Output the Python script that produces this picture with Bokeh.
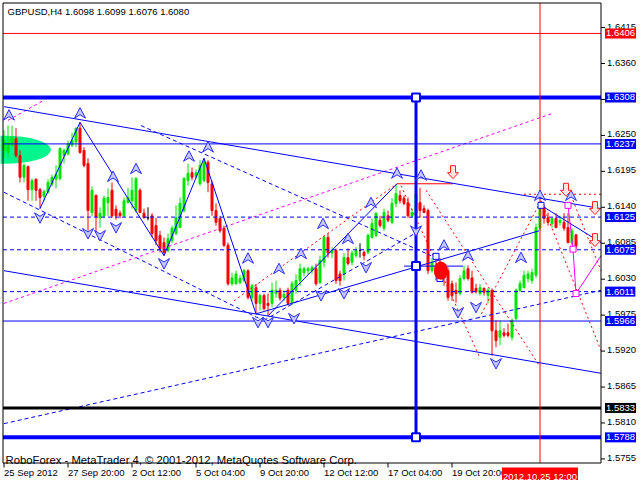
from bokeh.plotting import figure
from bokeh.models import Range1d, Label, ColumnDataSource
from bokeh.embed import file_html
from bokeh.resources import INLINE

title_text = "GBPUSD,H4  1.6098 1.6099 1.6076 1.6080"
copyright_text = "RoboForex - MetaTrader 4, \u00a9 2001-2012, MetaQuotes Software Corp."

opens = [
    1.6227, 1.6224, 1.6235, 1.6245, 1.6219, 1.6186, 1.6202, 1.6167, 1.6183, 1.6167,
    1.6157, 1.6163, 1.6176, 1.6183, 1.6184, 1.6219, 1.6222, 1.6235, 1.6240, 1.6261,
    1.6227, 1.6207, 1.6132, 1.6158, 1.6124, 1.6127, 1.6147, 1.6166, 1.6137, 1.6131,
    1.6127, 1.6147, 1.6150, 1.6135, 1.6166, 1.6131, 1.6124, 1.6127, 1.6112, 1.6097,
    1.6086, 1.6074, 1.6089, 1.6100, 1.6109, 1.6135, 1.6181, 1.6193, 1.6187, 1.6176,
    1.6181, 1.6209, 1.6176, 1.6135, 1.6123, 1.6108, 1.6082, 1.6023, 1.6023, 1.6025,
    1.6028, 1.6043, 1.6002, 1.6017, 1.5993, 1.6005, 1.5993, 1.5993, 1.6008, 1.6013,
    1.6002, 1.6013, 1.5994, 1.6013, 1.6028, 1.6040, 1.6043, 1.6043, 1.6046, 1.6025,
    1.6056, 1.6094, 1.6070, 1.6074, 1.6038, 1.6038, 1.6063, 1.6056, 1.6066, 1.6074,
    1.6071, 1.6071, 1.6094, 1.6097, 1.6120, 1.6108, 1.6127, 1.6117, 1.6146, 1.6158,
    1.6154, 1.6147, 1.6127, 1.6131, 1.6147, 1.6138, 1.6135, 1.6043, 1.6051, 1.6056,
    1.6043, 1.6043, 1.6023, 1.6013, 1.6008, 1.6031, 1.6046, 1.6032, 1.6016, 1.6008,
    1.6016, 1.6005, 1.6013, 1.5951, 1.5941, 1.5948, 1.5948, 1.5941, 1.5970, 1.6013,
    1.6017, 1.6031, 1.6028, 1.6036, 1.6108, 1.6140, 1.6124, 1.6115, 1.6123, 1.6117,
    1.6117, 1.6109, 1.6085, 1.6098]
highs = [
    1.6258, 1.6265, 1.6265, 1.6261, 1.6227, 1.6207, 1.6204, 1.6184, 1.6184, 1.6170,
    1.6167, 1.6183, 1.6190, 1.6204, 1.6232, 1.6230, 1.6242, 1.6254, 1.6262, 1.6270,
    1.6232, 1.6215, 1.6172, 1.6160, 1.6140, 1.6158, 1.6169, 1.6178, 1.6143, 1.6135,
    1.6155, 1.6170, 1.6186, 1.6186, 1.6169, 1.6138, 1.6140, 1.6131, 1.6124, 1.6104,
    1.6094, 1.6100, 1.6112, 1.6143, 1.6155, 1.6186, 1.6207, 1.6201, 1.6198, 1.6212,
    1.6215, 1.6212, 1.6181, 1.6146, 1.6127, 1.6112, 1.6086, 1.6040, 1.6043, 1.6036,
    1.6046, 1.6045, 1.6023, 1.6023, 1.6008, 1.6008, 1.6008, 1.6025, 1.6028, 1.6017,
    1.6013, 1.6017, 1.6027, 1.6038, 1.6054, 1.6049, 1.6049, 1.6051, 1.6054, 1.6066,
    1.6097, 1.6100, 1.6079, 1.6077, 1.6043, 1.6070, 1.6077, 1.6074, 1.6079, 1.6085,
    1.6074, 1.6100, 1.6123, 1.6132, 1.6127, 1.6138, 1.6135, 1.6154, 1.6176, 1.6166,
    1.6158, 1.6155, 1.6138, 1.6166, 1.6170, 1.6143, 1.6138, 1.6062, 1.6059, 1.6062,
    1.6051, 1.6048, 1.6028, 1.6025, 1.6036, 1.6051, 1.6051, 1.6043, 1.6023, 1.6023,
    1.6017, 1.6017, 1.6016, 1.5967, 1.5967, 1.5955, 1.5962, 1.5970, 1.6016, 1.6028,
    1.6043, 1.6043, 1.6046, 1.6115, 1.6150, 1.6143, 1.6132, 1.6124, 1.6131, 1.6127,
    1.6131, 1.6131, 1.6108, 1.6099]
lows = [
    1.6216, 1.6216, 1.6232, 1.6216, 1.6178, 1.6178, 1.6150, 1.6150, 1.6150, 1.6138,
    1.6150, 1.6161, 1.6172, 1.6169, 1.6181, 1.6207, 1.6219, 1.6232, 1.6232, 1.6222,
    1.6201, 1.6104, 1.6126, 1.6101, 1.6109, 1.6123, 1.6127, 1.6124, 1.6121, 1.6123,
    1.6124, 1.6146, 1.6138, 1.6132, 1.6131, 1.6123, 1.6120, 1.6094, 1.6082, 1.6071,
    1.6066, 1.6071, 1.6085, 1.6097, 1.6108, 1.6132, 1.6173, 1.6181, 1.6184, 1.6173,
    1.6178, 1.6163, 1.6127, 1.6112, 1.6101, 1.6079, 1.6020, 1.6020, 1.6022, 1.6022,
    1.6025, 1.5999, 1.5997, 1.5977, 1.5982, 1.5982, 1.5974, 1.5987, 1.6001, 1.5997,
    1.5997, 1.5990, 1.5990, 1.6008, 1.6020, 1.6034, 1.6037, 1.6038, 1.6020, 1.6022,
    1.6048, 1.6063, 1.6062, 1.6023, 1.6020, 1.6028, 1.6051, 1.6051, 1.6063, 1.6063,
    1.6059, 1.6068, 1.6092, 1.6094, 1.6109, 1.6104, 1.6117, 1.6114, 1.6140, 1.6146,
    1.6143, 1.6124, 1.6124, 1.6127, 1.6124, 1.6131, 1.6038, 1.6040, 1.6028, 1.6031,
    1.6020, 1.5997, 1.5997, 1.5994, 1.6005, 1.6028, 1.6028, 1.6008, 1.6008, 1.6005,
    1.6005, 1.5993, 1.5913, 1.5926, 1.5929, 1.5941, 1.5941, 1.5936, 1.5967, 1.6010,
    1.6016, 1.6025, 1.6023, 1.6032, 1.6104, 1.6115, 1.6112, 1.6109, 1.6108, 1.6112,
    1.6104, 1.6085, 1.6082, 1.6076]
closes = [
    1.6242, 1.6239, 1.6247, 1.6219, 1.6186, 1.6204, 1.6167, 1.6181, 1.6166, 1.6155,
    1.6164, 1.6178, 1.6186, 1.6190, 1.6230, 1.6227, 1.6237, 1.6242, 1.6261, 1.6224,
    1.6204, 1.6135, 1.6166, 1.6126, 1.6131, 1.6154, 1.6155, 1.6127, 1.6127, 1.6127,
    1.6150, 1.6155, 1.6166, 1.6184, 1.6132, 1.6124, 1.6124, 1.6100, 1.6089, 1.6077,
    1.6071, 1.6092, 1.6108, 1.6124, 1.6146, 1.6184, 1.6192, 1.6186, 1.6193, 1.6204,
    1.6210, 1.6178, 1.6135, 1.6117, 1.6104, 1.6082, 1.6023, 1.6032, 1.6038, 1.6031,
    1.6043, 1.6002, 1.6020, 1.5993, 1.6005, 1.5985, 1.5990, 1.6013, 1.6013, 1.6001,
    1.6007, 1.5993, 1.6023, 1.6028, 1.6046, 1.6046, 1.6046, 1.6048, 1.6023, 1.6059,
    1.6094, 1.6070, 1.6074, 1.6028, 1.6028, 1.6063, 1.6054, 1.6070, 1.6074, 1.6074,
    1.6066, 1.6097, 1.6115, 1.6131, 1.6112, 1.6132, 1.6120, 1.6146, 1.6161, 1.6150,
    1.6146, 1.6127, 1.6132, 1.6161, 1.6135, 1.6132, 1.6043, 1.6056, 1.6036, 1.6038,
    1.6032, 1.6002, 1.6005, 1.6008, 1.6031, 1.6043, 1.6031, 1.6010, 1.6011, 1.6017,
    1.6010, 1.6013, 1.5951, 1.5936, 1.5951, 1.5944, 1.5944, 1.5967, 1.6013, 1.6023,
    1.6036, 1.6038, 1.6040, 1.6109, 1.6146, 1.6123, 1.6117, 1.6123, 1.6109, 1.6120,
    1.6108, 1.6086, 1.6104, 1.6080]

time_ticks = [0, 16, 32, 48, 64, 80, 96, 112]
time_labels = ["25 Sep 2012", "27 Sep 20:00", "2 Oct 12:00", "5 Oct 04:00",
               "9 Oct 20:00", "12 Oct 12:00", "17 Oct 04:00", "19 Oct 20:00"]
cursor_bar = 134
cursor_label = "2012.10.25 12:00"
price_ticks = [1.6415, 1.6360, 1.6305, 1.6250, 1.6195, 1.6140, 1.6085, 1.6030,
               1.5975, 1.5920, 1.5865, 1.5810, 1.5755]
levels = [1.6406, 1.6308, 1.6237, 1.6125, 1.6075, 1.6011, 1.5966, 1.5833, 1.5788]
level_colors = ["#ff0000", "#0000ff", "#0000ff", "#0000ff", "#0000ff",
                "#0000ff", "#0000ff", "#000000", "#0000ff"]
level_widths = [1, 4, 1, 1, 1, 1, 1, 3, 4]
level_dashes = ["solid", "solid", "solid", "4 3", "4 3", "4 3", "solid", "solid", "solid"]

# drawn objects (bar index, price)
solid_x0 = [0, 0, 63, 66, 134.25, 100]
solid_y0 = [1.6294, 1.6043, 1.5977, 1.5974, 1.6143, 1.6050]
solid_x1 = [149.25, 149.25, 133.75, 98.25, 149.25, 114.75]
solid_y1 = [1.6138, 1.5886, 1.6104, 1.6176, 1.6086, 1.6050]
zig_x = [9, 19, 40, 50, 63]
zig_y = [1.6138, 1.6270, 1.6066, 1.6215, 1.5977]
dash_x0 = [0, 34.25, 0, 65]
dash_y0 = [1.6163, 1.6265, 1.5809, 1.5967]
dash_x1 = [63.75, 106.75, 149.25, 103]
dash_y1 = [1.5970, 1.6066, 1.6013, 1.6101]
mag_x0 = [1, 0]
mag_y0 = [1.6273, 1.5993]
mag_x1 = [9.75, 137.25]
mag_y1 = [1.6303, 1.6284]
red_x0 = [57.5, 99.25, 105.5, 118.75, 134.25, 141.75, 130]
red_y0 = [1.5997, 1.6173, 1.6166, 1.5970, 1.6150, 1.6158, 1.6160]
red_x1 = [98.25, 118.75, 134, 134.25, 149.25, 149.25, 149.25]
red_y1 = [1.6176, 1.5913, 1.5896, 1.6150, 1.5921, 1.6043, 1.6160]
peak_line_x = [98.25, 112.25]
peak_line_y = [1.6176, 1.6176]
pink_x = [141, 142.25, 143, 149.25]
pink_y = [1.6143, 1.6076, 1.6008, 1.6066]
vline_bar = 103
cross_price = 1.6050

up_x = [1.25, 19, 46.25, 51, 33, 27.25, 61, 68.75, 74.25, 79.75, 86, 91.75,
        98.25, 104.25, 110, 116, 129.25, 134, 141.75]
up_y = [1.6281, 1.6284, 1.6218, 1.6232, 1.6199, 1.6187, 1.6062, 1.6046, 1.6069,
        1.6115, 1.6092, 1.6147, 1.6192, 1.6189, 1.6082, 1.6066, 1.6063, 1.6158, 1.6158]
dn_x = [9, 21, 24, 28, 40, 63.5, 66, 72.5, 79.25, 85, 90.5, 103, 113.5, 118, 123]
dn_y = [1.6124, 1.6100, 1.6097, 1.6109, 1.6054, 1.5964, 1.5964, 1.5970, 1.6005,
        1.6008, 1.6048, 1.6104, 1.5979, 1.5987, 1.5901]
red_arrow_x = [112.25, 140.5, 147.75, 147.75]
red_arrow_y = [1.6193, 1.6166, 1.6138, 1.6089]
sq_x = [108, 109, 134.25]
sq_y = [1.6065, 1.6031, 1.6143]

# ---- canvas geometry: whole canvas is the frame; chart box drawn inside ----
W, H = 640, 480
PX_PER_BAR = 4.0
BAR0_PX = 3.5
PRICE_PER_PX = 0.000153
PRICE_AT_TOP = 1.64564


def bx(px):
    return (px - BAR0_PX) / PX_PER_BAR


def py(px):
    return PRICE_AT_TOP - px * PRICE_PER_PX


def shapes(xc, yc, dxs, dys):
    xs = [[x + d / PX_PER_BAR for d in dxs] for x in xc]
    ys = [[y - d * PRICE_PER_PX for d in dys] for y in yc]
    return xs, ys


XL, XR = bx(2.5), bx(600.5)
YT, YB = py(2.5), py(462.5)

p = figure(width=W, height=H, x_range=Range1d(bx(0), bx(W)), y_range=Range1d(py(H), py(0)),
           output_backend="svg", toolbar_location=None,
           x_axis_location=None, y_axis_location=None,
           min_border=0, outline_line_color=None,
           background_fill_color="white", border_fill_color="white")
p.grid.grid_line_color = None

# green cloud
p.ellipse(x=[0], y=[1.6228], width=23.5, height=0.00428,
          fill_color="#00f58c", line_color=None)

bars = list(range(len(opens)))
cols = ["#00e600" if c > o else ("#ff0000" if c < o else "#000000")
        for o, c in zip(opens, closes)]
src = ColumnDataSource(dict(x=bars, o=opens, h=highs, l=lows, c=closes,
                            top=[max(a, b) for a, b in zip(opens, closes)],
                            bot=[min(a, b) for a, b in zip(opens, closes)],
                            col=cols))
p.segment(x0="x", y0="l", x1="x", y1="h", line_color="col", line_width=1, source=src)
p.vbar(x="x", width=0.5, top="top", bottom="bot", fill_color="col",
       line_color="col", line_width=1, source=src)

# dashed / dotted objects
p.segment(x0=dash_x0, y0=dash_y0, x1=dash_x1, y1=dash_y1, line_color="#0000ff",
          line_width=1, line_dash="4 3")
p.segment(x0=mag_x0, y0=mag_y0, x1=mag_x1, y1=mag_y1, line_color="#ff00ff",
          line_width=1, line_dash="3 3")
p.segment(x0=red_x0, y0=red_y0, x1=red_x1, y1=red_y1, line_color="#ff0000",
          line_width=1, line_dash="2 3")

# horizontal levels
for lv, lc, lw, ld in zip(levels, level_colors, level_widths, level_dashes):
    p.segment(x0=[XL], y0=[lv], x1=[XR], y1=[lv], line_color=lc, line_width=lw, line_dash=ld)
p.segment(x0=[cursor_bar], y0=[YB], x1=[cursor_bar], y1=[YT], line_color="#ff0000", line_width=1)

p.line(peak_line_x, peak_line_y, line_color="#ff0000", line_width=1)
p.segment(x0=solid_x0, y0=solid_y0, x1=solid_x1, y1=solid_y1, line_color="#0000ff", line_width=1)
p.line(zig_x, zig_y, line_color="#0000ff", line_width=1)
p.line(pink_x, pink_y, line_color="#ff00ff", line_width=1)
p.scatter(pink_x[:3], pink_y[:3], marker="square", size=6, fill_color="white",
          line_color="#ff00ff", line_width=1)
p.segment(x0=[vline_bar], y0=[levels[8]], x1=[vline_bar], y1=[levels[1]],
          line_color="#0000ff", line_width=3)
p.scatter([vline_bar, vline_bar, vline_bar], [levels[1], levels[8], cross_price],
          marker="square", size=8, fill_color="white", line_color="#0000ff", line_width=2)
p.scatter(sq_x, sq_y, marker="square", size=6, fill_color="white",
          line_color="#0000ff", line_width=1)
p.ellipse(x=[109.25], y=[1.6043], width=3.5, height=0.0028, fill_color="#ff0000",
          line_color=None)

# MetaTrader-style arrowheads
ux, uy = shapes(up_x, up_y, [0, 5.5, 0, -5.5], [-5.5, 5, 1.5, 5])
p.patches(ux, uy, fill_color="#c4c8ff", line_color="#2a2aff", line_width=1)
dx, dy = shapes(dn_x, dn_y, [0, 5.5, 0, -5.5], [5.5, -5, -1.5, -5])
p.patches(dx, dy, fill_color="#c4c8ff", line_color="#2a2aff", line_width=1)
rx, ry = shapes(red_arrow_x, red_arrow_y, [-2.5, 2.5, 2.5, 5.5, 0, -5.5, -2.5],
                [-7, -7, 0, 0, 6, 0, 0])
p.patches(rx, ry, fill_color="#ffe4e4", line_color="#ff2020", line_width=1)

# chart box and tick marks
p.quad(left=[XL], right=[XR], top=[YT], bottom=[YB], fill_color=None,
       line_color="black", line_width=1)
p.segment(x0=[XR] * len(price_ticks), y0=price_ticks, x1=[XR + 1] * len(price_ticks),
          y1=price_ticks, line_color="black", line_width=1)
p.segment(x0=time_ticks, y0=[YB] * len(time_ticks), x1=time_ticks,
          y1=[py(467)] * len(time_ticks), line_color="black", line_width=1)

FONT = "Liberation Sans"
p.add_layout(Label(x=bx(7), y=py(5), text=title_text, text_baseline="top",
                   text_font=FONT, text_font_size="9.5px", text_color="black"))
p.add_layout(Label(x=bx(5), y=py(459), text=copyright_text, text_baseline="alphabetic",
                   text_font=FONT, text_font_size="11.3px", text_color="black"))

for t in price_ticks:
    if any(abs(t - lv) < 0.0004 for lv in (1.6308, 1.6075)):
        continue
    p.add_layout(Label(x=XR, y=t, text=f"{t:.4f}", x_offset=6, y_offset=1,
                       text_baseline="middle", text_font=FONT, text_font_size="9.5px",
                       text_color="black"))
for lv, lc in zip(levels, level_colors):
    p.add_layout(Label(x=XR, y=lv, text=f"{lv:.4f}", x_offset=4, text_baseline="middle",
                       text_font=FONT, text_font_size="9.5px", text_color="white",
                       background_fill_color=lc, padding=(1, 2)))

for tb, tl in zip(time_ticks, time_labels):
    p.add_layout(Label(x=tb, y=py(466), text=tl, x_offset=0, text_baseline="top",
                       text_font=FONT, text_font_size="9.5px", text_color="black"))
p.add_layout(Label(x=cursor_bar, y=py(467), text=cursor_label, text_align="center",
                   text_baseline="top", text_font=FONT, text_font_size="9.5px",
                   text_color="white", background_fill_color="#ff0000", padding=(1, 3)))

open("out.html", "w").write(file_html(p, INLINE))
